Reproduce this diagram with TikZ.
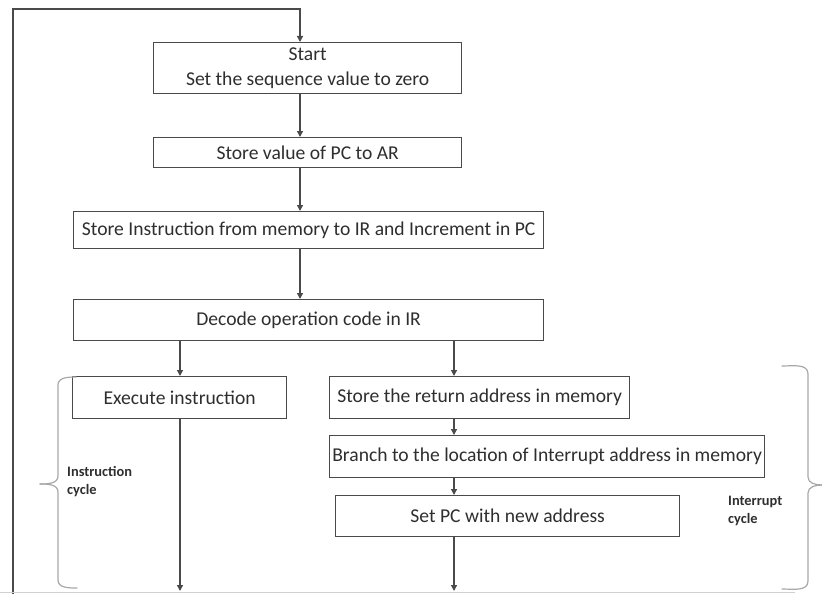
\documentclass[tikz,border=0pt]{standalone}
\usepackage{fontspec}
\setmainfont{Carlito}
\usetikzlibrary{arrows.meta}
\definecolor{linec}{HTML}{4A4A4A}
\definecolor{txtc}{HTML}{2E2E2E}
\definecolor{bracec}{HTML}{A8A8A8}
\definecolor{rulec}{HTML}{D0D0D0}
\begin{document}
\begin{tikzpicture}[x=1pt,y=-1pt,
  stepbox/.style={draw=linec, line width=1.3pt, inner sep=0pt, text=txtc,
    font=\fontsize{19.6}{25}\selectfont, anchor=north west, align=center},
  flow/.style={draw=linec, line width=1.3pt, -{Triangle[length=6pt,width=6pt]}},
  note/.style={font=\fontsize{14.4}{18}\selectfont\bfseries, text=txtc,
    align=left, anchor=west, inner sep=0pt},
  brace/.style={draw=bracec, line width=1.2pt, line cap=round, line join=round}]
\useasboundingbox (0,0) rectangle (822,594);

% column positions of the connectors
\coordinate (corner) at (13,9);
\coordinate (top) at (300,9);
\coordinate (frameend) at (13,594);
\coordinate (colA) at (180,0);
\coordinate (colB) at (454,0);
\coordinate (endA) at (180,591);
\coordinate (endB) at (454,591);

% steps of the cycle
\node[stepbox, minimum width=308pt, minimum height=51pt] (start) at (153,42)
  {Start\\Set the sequence value to zero};
\node[stepbox, minimum width=308pt, minimum height=30pt] (pcar) at (153,137)
  {Store value of PC to AR};
\node[stepbox, minimum width=470pt, minimum height=37pt] (fetch) at (73,211)
  {Store Instruction from memory to IR and Increment in PC};
\node[stepbox, minimum width=470pt, minimum height=41pt] (decode) at (73,299)
  {Decode operation code in IR};
\node[stepbox, minimum width=214pt, minimum height=42pt] (exec) at (72,376)
  {Execute instruction};
\node[stepbox, minimum width=300pt, minimum height=42pt] (ret) at (329,376)
  {Store the return address in memory};
\node[stepbox, minimum width=435pt, minimum height=42pt] (branch) at (329,435)
  {Branch to the location of Interrupt address in memory};
\node[stepbox, minimum width=344pt, minimum height=41pt] (setpc) at (335,495)
  {Set PC with new address};

% return path and main flow
\draw[flow] (frameend) -- (corner) -- (top) -- (start.north -| top);
\draw[flow] (start.south -| top) -- (pcar.north -| top);
\draw[flow] (pcar.south -| top) -- (fetch.north -| top);
\draw[flow] (fetch.south -| top) -- (decode.north -| top);
\draw[flow] (decode.south -| colA) -- (exec.north -| colA);
\draw[flow] (decode.south -| colB) -- (ret.north -| colB);
\draw[flow] (exec.south -| colA) -- (endA);
\draw[flow] (ret.south -| colB) -- (branch.north -| colB);
\draw[flow] (branch.south -| colB) -- (setpc.north -| colB);
\draw[flow] (setpc.south -| colB) -- (endB);

% bottom rule
\draw[rulec, line width=1pt] (0,592.5) -- (795,592.5);

% braces
\draw[brace] (76,377) to[out=180,in=90] (58,385) -- (58,476) to[out=-90,in=0] (40,484);
\draw[brace] (40,484) to[out=0,in=90] (58,492) -- (58,580) to[out=-90,in=180] (77,588);
\draw[brace] (782,366) to[out=0,in=90] (808,374) -- (808,477) to[out=-90,in=180] (822,485);
\draw[brace] (822,485) to[out=180,in=90] (808,493) -- (808,581) to[out=-90,in=0] (782,589);

% cycle labels
\node[note] (icyc) at (67,482) {Instruction\\cycle};
\node[note] (irq) at (728,511) {Interrupt\\cycle};
\end{tikzpicture}
\end{document}
